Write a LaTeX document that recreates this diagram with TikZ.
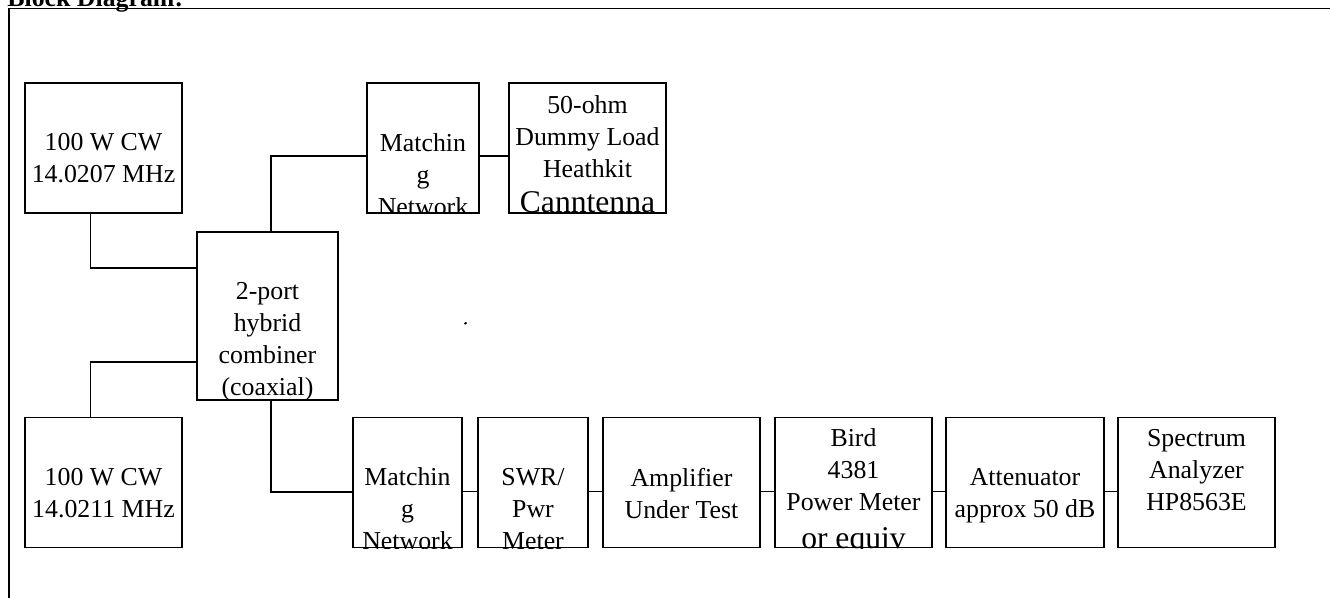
\documentclass[tikz,border=0pt]{standalone}
\usepackage{fontspec}
\setmainfont{Liberation Serif}

\tikzset{
  blk/.style={draw, line width=1pt, inner sep=0pt, minimum height=2.6cm},
  lbl/.style={align=center, inner sep=0pt, anchor=north, font=\fontsize{14.7}{18.2}\selectfont},
  wire/.style={line width=1pt},
}

% text of a block, cut off at the block's edge
\newcommand{\blktext}[3]{%
  \begin{scope}
    \clip (#1.south west) rectangle (#1.north east);
    \node[lbl] (#1-txt) at ([yshift=-#2]#1.north) {#3};
  \end{scope}}

\begin{document}
\begin{tikzpicture}[x=0.02cm, y=-0.02cm]
      \useasboundingbox (0,0) rectangle (1330,598);

      % frame and title
      \draw[line width=1pt] (1340,8.5) -- (9,8.5) -- (9,610);
      \node[anchor=base west, inner sep=0pt, font=\bfseries\fontsize{14.7}{17.8}\selectfont] (title) at (7,7) {Block Diagram:};

      \begin{scope}[every node/.style={blk}]
        \node[minimum width=3.14cm] (srcA)   at (103.5,148)   {};
        \node[minimum width=2.24cm] (matchA) at (423,148)     {};
        \node[minimum width=3.14cm] (load)   at (587.5,148)   {};
        \node[minimum width=2.82cm, minimum height=3.36cm] (comb) at (267.5,316) {};
        \node[minimum width=3.14cm] (srcB)   at (103.5,482.5) {};
        \node[minimum width=2.18cm] (matchB) at (407.5,482.5) {};
        \node[minimum width=2.2cm]  (swr)    at (533,482.5)   {};
        \node[minimum width=3.14cm] (amp)    at (681.5,482.5) {};
        \node[minimum width=3.14cm] (bird)   at (853.5,482.5) {};
        \node[minimum width=3.16cm] (att)    at (1025,482.5)  {};
        \node[minimum width=3.14cm] (spec)   at (1196.5,482.5) {};
      \end{scope}

      \blktext{srcA}{1.02cm}{100 W CW\\14.0207 MHz}
      \blktext{matchA}{1.02cm}{Matchin\\g\\Network}
      \blktext{load}{0.26cm}{50-ohm\\Dummy Load\\Heathkit\\[2pt]{\fontsize{18}{20}\selectfont Canntenna}}
      \blktext{comb}{1.02cm}{2-port\\hybrid\\combiner\\(coaxial)}
      \blktext{srcB}{1.02cm}{100 W CW\\14.0211 MHz}
      \blktext{matchB}{1.02cm}{Matchin\\g\\Network}
      \blktext{swr}{1.02cm}{SWR/\\Pwr\\Meter}
      \blktext{amp}{1.02cm}{Amplifier\\Under Test}
      \blktext{bird}{0.24cm}{Bird\\4381\\Power Meter\\[3pt]{\fontsize{18}{20}\selectfont or equiv}}
      \blktext{att}{1.02cm}{Attenuator\\approx 50 dB}
      \blktext{spec}{0.24cm}{Spectrum\\Analyzer\\HP8563E}

      \begin{scope}[every path/.style={wire}]
        \draw ([xshift=-0.26cm]srcA.south) |- ([yshift=0.96cm]comb.west);
        \draw ([xshift=-0.26cm]srcB.north) |- ([yshift=-0.92cm]comb.west);
        \draw ([xshift=0.07cm]comb.north) |- ([yshift=-0.16cm]matchA.west);
        \draw ([yshift=-0.16cm]matchA.east) -- ([yshift=-0.16cm]load.west);
        \draw ([xshift=0.07cm]comb.south) |- ([yshift=-0.19cm]matchB.west);
        \foreach \a/\b in {matchB/swr, swr/amp, amp/bird, bird/att, att/spec}
          \draw ([yshift=-0.18cm]\a.east) -- ([yshift=-0.18cm]\b.west);
      \end{scope}

      % stray mark
      \draw[line width=1pt] (464.5,324) -- (466.5,322.5);

    \end{tikzpicture}
\end{document}
